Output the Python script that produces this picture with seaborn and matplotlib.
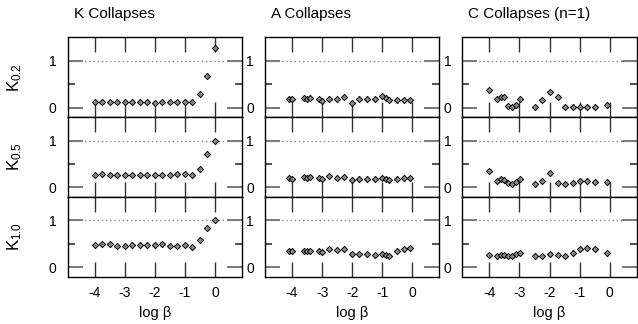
import matplotlib
matplotlib.use('Agg')
import matplotlib.pyplot as plt
import seaborn as sns

# log beta positions
k_beta = [-4.0, -3.75, -3.5, -3.25, -3.0, -2.75, -2.5, -2.25, -2.0, -1.75,
          -1.5, -1.25, -1.0, -0.75, -0.5, -0.25, 0.0]
a_beta = [-4.09, -3.99, -3.61, -3.5, -3.39, -3.11, -3.01, -2.76, -2.5, -2.26,
          -2.0, -1.76, -1.5, -1.24, -1.0, -0.89, -0.78, -0.5, -0.28, -0.09]
c_beta = [-4.0, -3.76, -3.62, -3.5, -3.39, -3.24, -3.11, -2.99, -2.49, -2.24,
          -1.99, -1.73, -1.48, -1.23, -0.98, -0.77, -0.48, -0.08]

# K collapses
k_02 = [0.12, 0.13, 0.12, 0.12, 0.12, 0.12, 0.13, 0.13, 0.11, 0.12,
        0.12, 0.12, 0.12, 0.13, 0.29, 0.68, 1.28]
k_05 = [0.27, 0.29, 0.27, 0.27, 0.26, 0.27, 0.27, 0.27, 0.26, 0.26,
        0.26, 0.28, 0.29, 0.26, 0.39, 0.71, 0.99]
k_10 = [0.47, 0.49, 0.49, 0.46, 0.46, 0.47, 0.47, 0.47, 0.47, 0.49,
        0.45, 0.46, 0.47, 0.44, 0.59, 0.84, 1.00]

# A collapses
a_02 = [0.18, 0.18, 0.21, 0.19, 0.21, 0.18, 0.15, 0.19, 0.19, 0.22,
        0.11, 0.19, 0.19, 0.19, 0.24, 0.20, 0.17, 0.16, 0.16, 0.16]
a_05 = [0.21, 0.19, 0.22, 0.21, 0.22, 0.21, 0.19, 0.24, 0.20, 0.23,
        0.17, 0.18, 0.18, 0.18, 0.21, 0.19, 0.17, 0.18, 0.20, 0.20]
a_10 = [0.34, 0.34, 0.34, 0.34, 0.34, 0.34, 0.33, 0.39, 0.36, 0.39,
        0.29, 0.29, 0.28, 0.26, 0.29, 0.26, 0.25, 0.34, 0.40, 0.41]

# C collapses (n=1)
c_02 = [0.37, 0.19, 0.22, 0.22, 0.04, 0.01, 0.05, 0.19, 0.01, 0.16,
        0.34, 0.22, 0.01, 0.02, 0.02, 0.02, 0.01, 0.05]
c_05 = [0.35, 0.14, 0.18, 0.15, 0.10, 0.08, 0.11, 0.19, 0.07, 0.13,
        0.31, 0.09, 0.07, 0.10, 0.13, 0.14, 0.11, 0.12]
c_10 = [0.26, 0.24, 0.26, 0.27, 0.25, 0.25, 0.28, 0.31, 0.25, 0.25,
        0.29, 0.26, 0.24, 0.31, 0.40, 0.41, 0.38, 0.31]

titles = ['K Collapses', 'A Collapses', 'C Collapses (n=1)']
row_labels = [r'$\mathregular{K_{0.2}}$', r'$\mathregular{K_{0.5}}$', r'$\mathregular{K_{1.0}}$']
xtick_vals = [-4, -3, -2, -1, 0]
xtick_labels = ['-4', '-3', '-2', '-1', '0']

betas = [k_beta, a_beta, c_beta]
values = [[k_02, a_02, c_02],
          [k_05, a_05, c_05],
          [k_10, a_10, c_10]]

sns.set_style('white')
plt.rcParams['font.family'] = ['Liberation Sans', 'DejaVu Sans']
plt.rcParams['mathtext.default'] = 'regular'
plt.rcParams['text.color'] = 'black'
plt.rcParams['axes.labelcolor'] = 'black'
plt.rcParams['xtick.labelcolor'] = 'black'
plt.rcParams['ytick.labelcolor'] = 'black'

fig, axes = plt.subplots(3, 3, figsize=(6.38, 3.24), dpi=100)
fig.subplots_adjust(left=0.106, right=0.998, top=0.885, bottom=0.146,
                    wspace=0.132, hspace=0)

for r in range(3):
    for c in range(3):
        ax = axes[r, c]
        ax.axhline(1, color='#888888', lw=1, ls=(0, (1, 2)), zorder=1)
        sns.scatterplot(x=betas[c], y=values[r][c], ax=ax, marker='D', s=10,
                        color='#8a8a8a', edgecolor='black', linewidth=0.7,
                        zorder=3)
        ax.set_xlim(-4.9, 0.9)
        ax.set_ylim(-0.2, 1.5)
        ax.set_xticks(xtick_vals)
        ax.set_yticks([0, 1])
        ax.set_yticklabels(['0', '1'])
        ax.set_yticks([0.5], minor=True)
        ax.tick_params(axis='x', direction='in', length=11, width=1,
                       color='#333333', labelcolor='black', top=True,
                       bottom=True, pad=7, labelsize=10)
        ax.tick_params(axis='y', which='major', direction='in', length=11,
                       width=1.4, color='#777777', labelcolor='black',
                       left=True, right=True, pad=8, labelsize=10)
        ax.tick_params(axis='y', which='minor', direction='in', length=5,
                       width=1.2, color='#333333', left=True, right=True)
        for sp in ax.spines.values():
            sp.set_color('black')
            sp.set_linewidth(1)
        if r == 2:
            ax.set_xticklabels(xtick_labels)
            ax.set_xlabel('log β', fontsize=10.5, color='black')
            ax.xaxis.set_label_coords(0.5, -0.37)
        else:
            ax.set_xticklabels([])
        if r == 0:
            ax.text(0.035, 1.29, titles[c], transform=ax.transAxes,
                    ha='left', va='center', fontsize=11, color='black')
        if c == 0:
            ax.set_ylabel(row_labels[r], fontsize=12, color='black')
            ax.yaxis.set_label_coords(-0.25, 0.5)
        else:
            ax.set_ylabel('')

fig.savefig('out.png', dpi=100)
